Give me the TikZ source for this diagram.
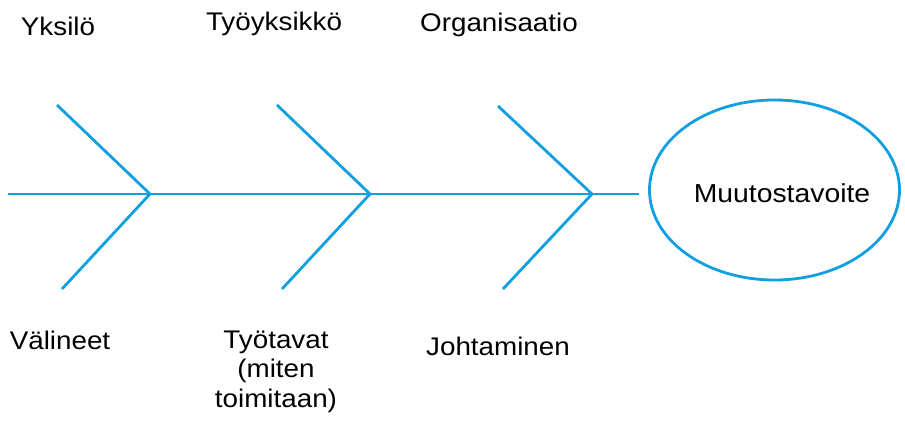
\documentclass[tikz,border=0pt]{standalone}
\usepackage{fontspec}
\setmainfont[FakeStretch=1.09]{Liberation Sans}
\usetikzlibrary{shapes.geometric}
\definecolor{fishblue}{RGB}{16,160,226}
\begin{document}
\begin{tikzpicture}[x=1pt,y=-1pt,
  bone/.style={draw=fishblue,line width=2.8pt,line cap=butt},
  lbl/.style={font=\fontsize{25.5}{29.5}\selectfont,text=black,inner sep=0pt,anchor=base,align=center},
  goalshape/.style={ellipse,draw=fishblue,line width=2.8pt,minimum width=250pt,minimum height=180pt,inner sep=0pt}]
\useasboundingbox (0,0) rectangle (905,422);
% spine coordinates
\coordinate (s0) at (8,194);
\coordinate (s1) at (639,194);
\coordinate (j1) at (150,194);
\coordinate (j2) at (370,194);
\coordinate (j3) at (592,194);
\coordinate (u1) at (57,105);
\coordinate (l1) at (62,289);
\coordinate (u2) at (277,105);
\coordinate (l2) at (282,289);
\coordinate (u3) at (498,106);
\coordinate (l3) at (503,289);
\draw[bone] (s0) -- (s1);
\draw[bone] (u1) -- (j1) -- (l1);
\draw[bone] (u2) -- (j2) -- (l2);
\draw[bone] (u3) -- (j3) -- (l3);
% goal
\node[goalshape] (goal) at (774.5,190) {};
\node[lbl,font=\fontsize{26}{29.5}\selectfont] (goaltext) at (782,203) {Muutostavoite};
% labels
\node[lbl] (yksilo) at (58,36) {Yksilö};
\node[lbl] (tyoyksikko) at (274,31) {Työyksikkö};
\node[lbl] (organisaatio) at (499,32) {Organisaatio};
\node[lbl] (valineet) at (60,349) {Välineet};
\node[lbl] (tyotavat) at (276,407) {Työtavat\\(miten\\toimitaan)};
\node[lbl] (johtaminen) at (498,355) {Johtaminen};
\end{tikzpicture}
\end{document}
